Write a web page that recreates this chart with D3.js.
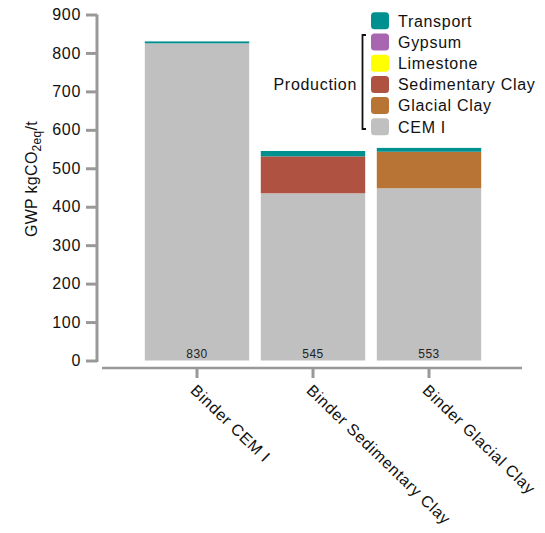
<!DOCTYPE html>
<html><head><meta charset="utf-8">
<script src="https://cdn.jsdelivr.net/npm/d3@7"></script>
<style>body{margin:0;background:#fff;} text{font-family:"Liberation Sans",Arial,sans-serif;}</style>
</head><body>
<svg id="c" width="545" height="533"></svg>
<script>
const categories = ["Binder CEM I", "Binder Sedimentary Clay", "Binder Glacial Clay"];
const seriesNames = ["CEM I", "Glacial Clay", "Sedimentary Clay", "Limestone", "Gypsum", "Transport"];
const cemI = [825, 435, 448];
const glacialClay = [0, 0, 95];
const sedimentaryClay = [0, 96, 0];
const limestone = [0, 0, 0];
const gypsum = [0, 0, 0];
const transport = [5, 14, 10];
const totals = [830, 545, 553];
const yTicks = [0, 100, 200, 300, 400, 500, 600, 700, 800, 900];
const legendOrder = ["Transport", "Gypsum", "Limestone", "Sedimentary Clay", "Glacial Clay", "CEM I"];
const colors = {"Transport":"#009090","Gypsum":"#a865b0","Limestone":"#ffff00","Sedimentary Clay":"#b05242","Glacial Clay":"#b87434","CEM I":"#c0c0c0"};

const seriesValues = [cemI, glacialClay, sedimentaryClay, limestone, gypsum, transport];
const rows = categories.map((c, i) => {
  const r = {cat: c};
  seriesNames.forEach((s, k) => r[s] = seriesValues[k][i]);
  return r;
});
const stacked = d3.stack().keys(seriesNames)(rows);

const svg = d3.select("#c");
const y = d3.scaleLinear().domain([0, 900]).range([360.5, 14.5]);
const x = d3.scaleBand().domain(categories).range([139, 487]).paddingInner(0.1).paddingOuter(0.05);
const axisColor = "#999";
const LS = "0.7px";

// bars
svg.append("g").selectAll("g").data(stacked).join("g")
  .attr("fill", d => colors[d.key])
  .selectAll("rect").data(d => d).join("rect")
  .attr("x", d => x(d.data.cat))
  .attr("width", x.bandwidth())
  .attr("y", d => y(d[1]))
  .attr("height", d => Math.max(0, y(d[0]) - y(d[1])));

// totals
svg.append("g").selectAll("text").data(categories).join("text")
  .attr("x", d => x(d) + x.bandwidth() / 2)
  .attr("y", y(0) - 3)
  .attr("text-anchor", "middle")
  .attr("font-size", 12)
  .attr("letter-spacing", "0.5px")
  .attr("fill", "#222")
  .text((d, i) => totals[i]);

// y axis
const ya = svg.append("g").attr("transform", "translate(97,0)")
  .call(d3.axisLeft(y).tickValues(yTicks).tickSize(11).tickPadding(5).tickSizeOuter(0));
ya.select(".domain").attr("stroke", axisColor).attr("stroke-width", 3).attr("d", `M0,${y(900)}V${y(0)+1.5}`);
ya.selectAll(".tick line").attr("stroke", axisColor).attr("stroke-width", 3);
ya.selectAll(".tick text").attr("font-size", 16).attr("fill", "#111").attr("letter-spacing", LS)
  .attr("font-family", "Liberation Sans, Arial, sans-serif");

// x axis
const xa = svg.append("g").attr("transform", "translate(0,368)")
  .call(d3.axisBottom(x).tickSize(10).tickSizeOuter(0));
xa.select(".domain").attr("stroke", axisColor).attr("stroke-width", 2.5).attr("d", "M102,0H522");
xa.selectAll(".tick line").attr("stroke", axisColor).attr("stroke-width", 3);
xa.selectAll(".tick text").remove();
svg.append("g").selectAll("text").data(categories).join("text")
  .attr("transform", d => `translate(${x(d) + x.bandwidth()/2 - 7.5},391.5) rotate(44)`)
  .attr("text-anchor", "start")
  .attr("font-size", 16)
  .attr("letter-spacing", LS)
  .attr("fill", "#111")
  .text(d => d);

// y label
const yl = svg.append("text")
  .attr("transform", "translate(37,179) rotate(-90)")
  .attr("text-anchor", "middle")
  .attr("font-size", 16)
  .attr("letter-spacing", "0.3px")
  .attr("fill", "#111");
yl.append("tspan").text("GWP kgCO");
yl.append("tspan").attr("font-size", 12).attr("dy", 4).text("2eq");
yl.append("tspan").attr("dy", -4).text("/t");

// legend
const lg = svg.append("g");
const rowStep = 21.2;
legendOrder.forEach((k, i) => {
  const yy = 12.3 + i * rowStep;
  lg.append("rect").attr("x", 371).attr("y", yy).attr("width", 18).attr("height", 17)
    .attr("rx", 3.5).attr("fill", colors[k]);
  lg.append("text").attr("x", 398).attr("y", yy + 14.3).attr("font-size", 16)
    .attr("letter-spacing", LS).attr("fill", "#111").text(k);
});
// bracket
const bTop = 35, bBot = 129;
lg.append("path").attr("d", `M366,${bTop}H362.5V${bBot}H366`).attr("fill", "none").attr("stroke", "#111").attr("stroke-width", 1.8);
lg.append("text").attr("x", 357).attr("y", 12.3 + 3 * rowStep + 14.3).attr("text-anchor", "end")
  .attr("font-size", 16).attr("letter-spacing", LS).attr("fill", "#111").text("Production");
</script>
</body></html>
